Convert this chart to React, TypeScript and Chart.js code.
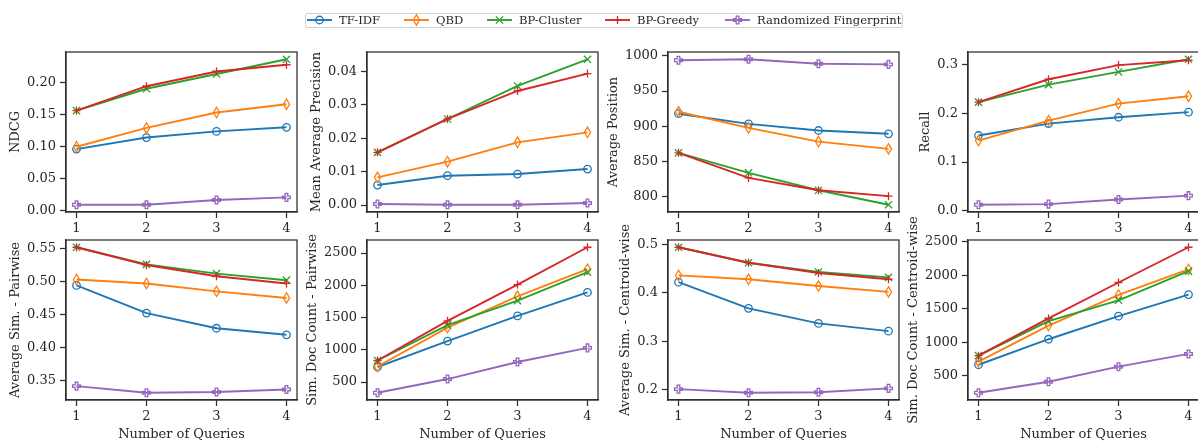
import React, { useEffect, useRef } from "react";
import { Chart, registerables } from "chart.js";
Chart.register(...registerables);

// ---------- data ----------
const queries = [1, 2, 3, 4];
const seriesNames = ["TF-IDF", "QBD", "BP-Cluster", "BP-Greedy", "Randomized Fingerprint"];
const seriesColors = ["#1f77b4", "#ff7f0e", "#2ca02c", "#d62728", "#9467bd"];
const seriesMarkers = ["circle", "thinDiamond", "x", "plus", "plusFilled"];

// rows: TF-IDF, QBD, BP-Cluster, BP-Greedy, Randomized Fingerprint
const ndcg = [
  [0.096, 0.114, 0.1236, 0.130],
  [0.0997, 0.129, 0.153, 0.166],
  [0.156, 0.190, 0.213, 0.236],
  [0.156, 0.194, 0.217, 0.2275],
  [0.0093, 0.0093, 0.0167, 0.0207],
];
const meanAvgPrecision = [
  [0.006, 0.0088, 0.0093, 0.0108],
  [0.0083, 0.013, 0.0188, 0.0218],
  [0.0158, 0.0258, 0.0357, 0.0437],
  [0.0158, 0.0258, 0.0342, 0.0394],
  [0.0003, 0.0001, 0.0001, 0.0006],
];
const avgPosition = [
  [917.7, 903.3, 893.8, 889.1],
  [920.5, 897.6, 878, 867.6],
  [861.9, 833.5, 808.6, 788],
  [861.9, 826.2, 808.6, 800.2],
  [993.9, 995.3, 989, 988],
];
const recall = [
  [0.1545, 0.179, 0.192, 0.2025],
  [0.144, 0.185, 0.22, 0.235],
  [0.223, 0.259, 0.285, 0.311],
  [0.223, 0.27, 0.299, 0.309],
  [0.0124, 0.0137, 0.023, 0.031],
];
const avgSimPairwise = [
  [0.494, 0.452, 0.429, 0.419],
  [0.503, 0.497, 0.485, 0.475],
  [0.552, 0.526, 0.512, 0.502],
  [0.552, 0.525, 0.508, 0.497],
  [0.341, 0.331, 0.332, 0.336],
];
const simDocCountPairwise = [
  [734, 1135, 1525, 1890],
  [742, 1345, 1830, 2250],
  [835, 1383, 1762, 2205],
  [835, 1450, 2012, 2590],
  [335, 547, 812, 1030],
];
const avgSimCentroid = [
  [0.422, 0.368, 0.337, 0.321],
  [0.436, 0.428, 0.414, 0.402],
  [0.494, 0.462, 0.443, 0.432],
  [0.494, 0.462, 0.441, 0.428],
  [0.2014, 0.194, 0.195, 0.203],
];
const simDocCountCentroid = [
  [665, 1045, 1388, 1710],
  [712, 1248, 1705, 2085],
  [800, 1315, 1625, 2060],
  [800, 1355, 1890, 2415],
  [248, 412, 636, 826],
];

const ndcgTicks = ["0.00", "0.05", "0.10", "0.15", "0.20"];
const mapTicks = ["0.00", "0.01", "0.02", "0.03", "0.04"];
const positionTicks = ["800", "850", "900", "950", "1000"];
const recallTicks = ["0.0", "0.1", "0.2", "0.3"];
const simPairTicks = ["0.35", "0.40", "0.45", "0.50", "0.55"];
const countTicks = ["500", "1000", "1500", "2000", "2500"];
const simCentroidTicks = ["0.2", "0.3", "0.4", "0.5"];
const xTickLabels = ["1", "2", "3", "4"];

const panels = [
  { label: "NDCG", values: ndcg, ticks: ndcgTicks, row: 0, col: 0, titleOffset: 50 },
  { label: "Mean Average Precision", values: meanAvgPrecision, ticks: mapTicks, row: 0, col: 1, titleOffset: 50 },
  { label: "Average Position", values: avgPosition, ticks: positionTicks, row: 0, col: 2, titleOffset: 54.5 },
  { label: "Recall", values: recall, ticks: recallTicks, row: 0, col: 3, titleOffset: 42.5 },
  { label: "Average Sim. - Pairwise", values: avgSimPairwise, ticks: simPairTicks, row: 1, col: 0, titleOffset: 50 },
  { label: "Sim. Doc Count - Pairwise", values: simDocCountPairwise, ticks: countTicks, row: 1, col: 1, titleOffset: 54 },
  { label: "Average Sim. - Centroid-wise", values: avgSimCentroid, ticks: simCentroidTicks, row: 1, col: 2, titleOffset: 42 },
  { label: "Sim. Doc Count - Centroid-wise", values: simDocCountCentroid, ticks: countTicks, row: 1, col: 3, titleOffset: 54.5 },
];

// ---------- layout ----------
const FONT = "'DejaVu Serif', serif";
const FONT_SIZE = 13;
const TEXT = "#262626";
const SPINE = "#2e2e2e";
const PLOT_LEFTS = [66, 367, 668, 968];
const PLOT_TOPS = [52, 240];
const PLOT_W = 231;
const PLOT_H = 160;
const Y_W = 64;
const PAD_TOP = 36;
const PAD_RIGHT = 8;
const X_H = 42;

function drawMarker(ctx: CanvasRenderingContext2D, type: string, x: number, y: number, color: string) {
  ctx.save();
  ctx.strokeStyle = color;
  ctx.lineWidth = 1.3;
  ctx.lineJoin = "miter";
  ctx.beginPath();
  if (type === "circle") {
    ctx.arc(x, y, 3.75, 0, Math.PI * 2);
  } else if (type === "thinDiamond") {
    ctx.moveTo(x, y - 5.2);
    ctx.lineTo(x + 3.1, y);
    ctx.lineTo(x, y + 5.2);
    ctx.lineTo(x - 3.1, y);
    ctx.closePath();
  } else if (type === "x") {
    const a = 3.6;
    ctx.moveTo(x - a, y - a);
    ctx.lineTo(x + a, y + a);
    ctx.moveTo(x - a, y + a);
    ctx.lineTo(x + a, y - a);
  } else if (type === "plus") {
    const b = 4;
    ctx.moveTo(x - b, y);
    ctx.lineTo(x + b, y);
    ctx.moveTo(x, y - b);
    ctx.lineTo(x, y + b);
  } else {
    const o = 3.9;
    const i = 1.3;
    const pts = [
      [-i, -o], [i, -o], [i, -i], [o, -i], [o, i], [i, i],
      [i, o], [-i, o], [-i, i], [-o, i], [-o, -i], [-i, -i],
    ];
    pts.forEach((p, k) => (k === 0 ? ctx.moveTo(x + p[0], y + p[1]) : ctx.lineTo(x + p[0], y + p[1])));
    ctx.closePath();
  }
  ctx.stroke();
  ctx.restore();
}

const markerPlugin = {
  id: "mplMarkers",
  afterDatasetDraw(chart: any, args: any) {
    const ds = chart.data.datasets[args.index];
    const ctx = chart.ctx;
    args.meta.data.forEach((pt: any) => drawMarker(ctx, ds.markerType, pt.x, pt.y, ds.borderColor));
  },
  afterDatasetsDraw(chart: any) {
    const { ctx, chartArea } = chart;
    ctx.save();
    ctx.strokeStyle = SPINE;
    ctx.lineWidth = 1.25;
    ctx.strokeRect(chartArea.left, chartArea.top, chartArea.right - chartArea.left, chartArea.bottom - chartArea.top);
    ctx.restore();
  },
};

function Panel({ p }: { p: any }) {
  const ref = useRef<HTMLCanvasElement | null>(null);
  useEffect(() => {
    if (!ref.current) return;
    const all = p.values.flat();
    const lo = Math.min(...all);
    const hi = Math.max(...all);
    const m = (hi - lo) * 0.05;
    const tickVals = p.ticks.map((t: string) => Number(t));
    const font = { family: FONT, size: FONT_SIZE };
    const titlePad = Math.max(0, Y_W - p.titleOffset - FONT_SIZE * 0.6);
    const chart = new Chart(ref.current, {
      type: "line",
      data: {
        labels: xTickLabels,
        datasets: seriesNames.map((name, i) => ({
          label: name,
          data: queries.map((q, k) => ({ x: q, y: p.values[i][k] })),
          borderColor: seriesColors[i],
          backgroundColor: seriesColors[i],
          borderWidth: 1.9,
          pointRadius: 0,
          pointHoverRadius: 0,
          tension: 0,
          fill: false,
          clip: false,
          order: 4 - i,
          markerType: seriesMarkers[i],
        })) as any,
      },
      options: {
        animation: false,
        responsive: false,
        maintainAspectRatio: false,
        devicePixelRatio: 1,
        events: [],
        layout: { padding: { left: 0, top: PAD_TOP, right: PAD_RIGHT, bottom: 0 } },
        plugins: { legend: { display: false }, tooltip: { enabled: false } },
        scales: {
          x: {
            type: "linear",
            min: 0.85,
            max: 4.15,
            afterBuildTicks: (s: any) => {
              s.ticks = queries.map((v) => ({ value: v }));
            },
            afterFit: (s: any) => {
              s.height = X_H;
            },
            ticks: {
              callback: (_v: any, idx: number) => xTickLabels[idx],
              font,
              color: TEXT,
              padding: 3,
              autoSkip: false,
              maxRotation: 0,
            },
            grid: { display: true, drawOnChartArea: false, drawTicks: true, tickLength: 6, tickWidth: 1.25, tickColor: SPINE },
            border: { display: true, color: SPINE, width: 1.25 },
            title: { display: p.row === 1, text: "Number of Queries", font, color: TEXT, padding: 0 },
          },
          y: {
            type: "linear",
            min: lo - m,
            max: hi + m,
            afterBuildTicks: (s: any) => {
              s.ticks = tickVals.map((v: number) => ({ value: v }));
            },
            afterFit: (s: any) => {
              s.width = Y_W;
            },
            ticks: {
              callback: (_v: any, idx: number) => p.ticks[idx],
              font,
              color: TEXT,
              padding: 4,
              autoSkip: false,
            },
            grid: { display: true, drawOnChartArea: false, drawTicks: true, tickLength: 6, tickWidth: 1.25, tickColor: SPINE },
            border: { display: true, color: SPINE, width: 1.25 },
            title: { display: true, text: p.label, font, color: TEXT, padding: { top: titlePad, bottom: 0 } },
          },
        },
      } as any,
      plugins: [markerPlugin],
    });
    return () => chart.destroy();
  }, [p]);
  const w = Y_W + PLOT_W + PAD_RIGHT;
  const h = PAD_TOP + PLOT_H + X_H;
  return (
    <canvas
      ref={ref}
      width={w}
      height={h}
      style={{
        position: "absolute",
        left: PLOT_LEFTS[p.col] - Y_W,
        top: PLOT_TOPS[p.row] - PAD_TOP,
        width: w,
        height: h,
      }}
    />
  );
}

const legendLineStarts = [307, 404, 487, 605, 725];

function Legend() {
  const ref = useRef<HTMLCanvasElement | null>(null);
  useEffect(() => {
    const c = ref.current;
    if (!c) return;
    const ctx = c.getContext("2d")!;
    ctx.clearRect(0, 0, c.width, c.height);
    seriesNames.forEach((_n, i) => {
      const x0 = legendLineStarts[i];
      ctx.save();
      ctx.strokeStyle = seriesColors[i];
      ctx.lineWidth = 1.9;
      ctx.beginPath();
      ctx.moveTo(x0, 20);
      ctx.lineTo(x0 + 25, 20);
      ctx.stroke();
      ctx.restore();
      drawMarker(ctx, seriesMarkers[i], x0 + 12.5, 20, seriesColors[i]);
    });
  }, []);
  return (
    <>
      <div
        style={{
          position: "absolute",
          left: 305,
          top: 13,
          width: 596,
          height: 13,
          border: "1px solid #d0d0d0",
          borderRadius: 2,
          background: "#fff",
        }}
      />
      <canvas ref={ref} width={1198} height={34} style={{ position: "absolute", left: 0, top: 0, width: 1198, height: 34 }} />
      {seriesNames.map((n, i) => (
        <span
          key={n}
          style={{
            position: "absolute",
            left: legendLineStarts[i] + 32,
            top: 13,
            lineHeight: "14px",
            fontSize: 11.6,
            fontFamily: FONT,
            color: TEXT,
            whiteSpace: "nowrap",
          }}
        >
          {n}
        </span>
      ))}
    </>
  );
}

export default function App() {
  return (
    <div
      style={{
        position: "absolute",
        left: 0,
        top: 0,
        width: 1198,
        height: 441,
        overflow: "hidden",
        background: "#fff",
      }}
    >
      {panels.map((p) => (
        <Panel key={p.label} p={p} />
      ))}
      <Legend />
    </div>
  );
}
